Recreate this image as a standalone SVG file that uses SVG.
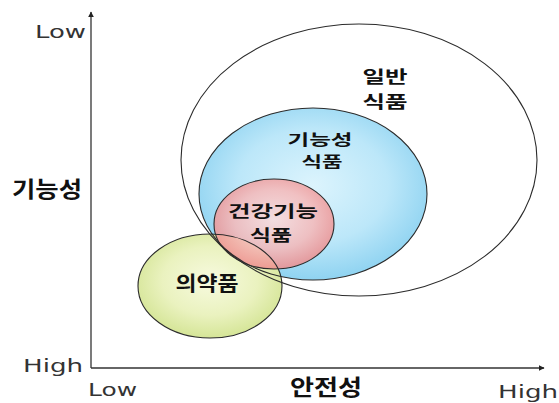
<svg xmlns="http://www.w3.org/2000/svg" width="559" height="403" viewBox="0 0 559 403">
<style>
.ax{stroke:#333;stroke-width:1.3;fill:none}
.ol{fill:none;stroke:#2b2b2b;stroke-width:1.1}
.lat{font-family:"DejaVu Sans","Liberation Sans",sans-serif;font-size:18px;fill:#333}
.ko{font-family:"Noto Sans CJK KR","Noto Sans",sans-serif;font-weight:bold;fill:#111;text-anchor:middle}
</style>
<defs>
<marker id="arr" viewBox="0 0 10 10" refX="9" refY="5" markerWidth="6" markerHeight="6" orient="auto" markerUnits="userSpaceOnUse">
<path d="M0,0 L10,5 L0,10 z" fill="#222"/>
</marker>
<radialGradient id="gBlue" cx="50%" cy="45%" r="55%">
<stop offset="0" stop-color="#dcf4fd"/>
<stop offset="0.6" stop-color="#bce7f9"/>
<stop offset="1" stop-color="#8fd3f1"/>
</radialGradient>
<radialGradient id="gPink" cx="50%" cy="45%" r="55%">
<stop offset="0" stop-color="#fbdcdc"/>
<stop offset="0.6" stop-color="#f6b8b8"/>
<stop offset="1" stop-color="#ee8d8d"/>
</radialGradient>
<radialGradient id="gGreen" cx="50%" cy="45%" r="55%">
<stop offset="0" stop-color="#f7fadf"/>
<stop offset="0.6" stop-color="#eaf2bf"/>
<stop offset="1" stop-color="#d5e597"/>
</radialGradient>
</defs>
<rect width="559" height="403" fill="#fff"/>
<g id="connectors">
<line class="ax" x1="91" y1="368" x2="91" y2="12" marker-end="url(#arr)"/>
<line class="ax" x1="91" y1="368" x2="544" y2="368" marker-end="url(#arr)"/>
</g>
<g id="fills">
<ellipse cx="359" cy="160" rx="178" ry="136" fill="#fff"/>
<ellipse cx="313" cy="194" rx="114" ry="86" fill="url(#gBlue)"/>
<ellipse cx="210" cy="286" rx="72" ry="52" fill="url(#gGreen)"/>
<ellipse cx="274" cy="224" rx="60" ry="45" fill="url(#gPink)" fill-opacity="0.85"/>
</g>
<g id="general-food">
<ellipse class="ol" cx="359" cy="160" rx="178" ry="136"/>
<text class="ko" font-size="17" x="385" y="82.5" textLength="45" lengthAdjust="spacingAndGlyphs">일반</text>
<text class="ko" font-size="17" x="385" y="107.5" textLength="45" lengthAdjust="spacingAndGlyphs">식품</text>
</g>
<g id="functional-food">
<ellipse class="ol" cx="313" cy="194" rx="114" ry="86"/>
<text class="ko" font-size="15" x="320" y="145" textLength="65" lengthAdjust="spacingAndGlyphs">기능성</text>
<text class="ko" font-size="15" x="322" y="167" textLength="41" lengthAdjust="spacingAndGlyphs">식품</text>
</g>
<g id="health-functional-food">
<ellipse class="ol" cx="274" cy="224" rx="60" ry="45"/>
<text class="ko" font-size="16" x="273" y="217" textLength="90" lengthAdjust="spacingAndGlyphs">건강기능</text>
<text class="ko" font-size="16" x="271" y="240.5" textLength="42" lengthAdjust="spacingAndGlyphs">식품</text>
</g>
<g id="medicine">
<ellipse class="ol" cx="210" cy="286" rx="72" ry="52"/>
<text class="ko" font-size="20" x="207" y="291" textLength="63" lengthAdjust="spacingAndGlyphs">의약품</text>
</g>
<g id="axis-labels">
<text class="lat" x="35" y="38" textLength="51" lengthAdjust="spacingAndGlyphs">Low</text>
<text class="lat" x="23" y="372" textLength="60" lengthAdjust="spacingAndGlyphs">High</text>
<text class="lat" x="88" y="396" textLength="49" lengthAdjust="spacingAndGlyphs">Low</text>
<text class="lat" x="498" y="398" textLength="60" lengthAdjust="spacingAndGlyphs">High</text>
<text class="ko" font-size="22" x="47" y="197" textLength="70" lengthAdjust="spacingAndGlyphs">기능성</text>
<text class="ko" font-size="22" x="326" y="395" textLength="72" lengthAdjust="spacingAndGlyphs">안전성</text>
</g>
</svg>
